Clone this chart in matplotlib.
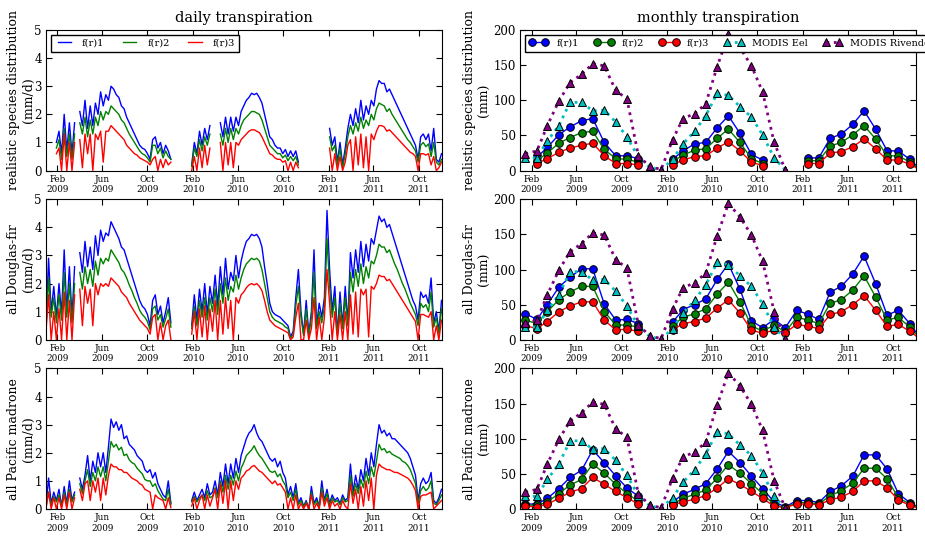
import numpy as np
import pandas as pd
import matplotlib
matplotlib.use('Agg')
import matplotlib.pyplot as plt
import matplotlib.dates as mdates

nan = np.nan

# daily transpiration, sampled once a week off the figure (mm/d)
weeks = pd.date_range('2009-01-01', periods=153, freq='7D')

real_d1 = [nan, nan, nan, nan, 1.0, 1.4, 0.6, 2.0, 0.7, 1.7, 0.6, 1.7, nan,
           2.1, 1.6, 2.5, 1.5, 2.3, 1.6, 2.4, 2.0, 2.8, 2.3, 2.7, 2.5,
           3.0, 2.9, 2.7, 2.6, 2.3, 2.2, 1.9, 1.7, 1.5, 1.3, 1.1, 0.9,
           0.8, 0.75, 0.6, 0.4, 1.1, 1.2, 0.8, 1.0, 0.6, 0.9, 0.7, 0.4,
           nan, nan, nan, nan, nan, nan, nan,
           0.2, 1.0, 0.6, 1.4, 0.9, 1.5, 1.1, 1.6, nan, nan, nan,
           1.7, 1.2, 1.9, 1.3, 1.9, 1.4, 1.9, 1.6, 2.1, 2.3, 2.5, 2.6,
           2.75, 2.7, 2.75, 2.6, 2.4, 2.0, 1.6, 1.2, 1.1, 0.9, 0.8, 0.8,
           0.6, 0.75, 0.5, 0.7, 0.5, 0.7, 0.3,
           nan, nan, nan, nan, nan, nan, nan, nan, nan, nan, nan,
           1.5, 0.9, 1.2, 0.3, 1.0, 0.2, 0.8, 1.5, 2.0, 1.6, 2.2, 1.7,
           2.5, 1.8, 2.3, 2.0, 2.5, 2.3, 2.9, 3.2, 3.1, 3.1, 2.8, 2.9,
           2.7, 2.5, 2.3, 2.1, 1.9, 1.7, 1.5, 1.3, 1.1, 0.9, 0.4, 1.2,
           1.3, 1.1, 1.3, 0.7, 1.5, 0.4, 0.3, 0.6]
real_d2 = [nan, nan, nan, nan, 0.8, 1.1, 0.4, 1.5, 0.5, 1.3, 0.4, 1.3, nan,
           1.7, 1.3, 1.9, 1.2, 1.8, 1.3, 1.9, 1.6, 2.1, 1.8, 2.1, 2.0,
           2.3, 2.2, 2.1, 2.0, 1.8, 1.7, 1.5, 1.3, 1.15, 1.0, 0.85, 0.7,
           0.6, 0.55, 0.45, 0.3, 0.9, 0.9, 0.6, 0.8, 0.45, 0.7, 0.5, 0.4,
           nan, nan, nan, nan, nan, nan, nan,
           0.15, 0.8, 0.5, 1.1, 0.7, 1.2, 0.9, 1.3, nan, nan, nan,
           1.3, 0.9, 1.5, 1.0, 1.5, 1.1, 1.5, 1.3, 1.6, 1.8, 1.9, 2.0,
           2.1, 2.1, 2.05, 2.0, 1.8, 1.5, 1.2, 0.9, 0.8, 0.7, 0.6, 0.6,
           0.45, 0.55, 0.35, 0.5, 0.35, 0.5, 0.2,
           nan, nan, nan, nan, nan, nan, nan, nan, nan, nan, nan,
           1.2, 0.7, 0.9, 0.2, 0.8, 0.1, 0.6, 1.2, 1.6, 1.3, 1.7, 1.4,
           1.9, 1.5, 1.8, 1.6, 2.0, 1.8, 2.2, 2.4, 2.35, 2.3, 2.1, 2.2,
           2.0, 1.85, 1.7, 1.55, 1.4, 1.25, 1.1, 1.0, 0.85, 0.7, 0.3, 0.9,
           1.0, 0.85, 0.95, 0.5, 1.0, 0.3, 0.2, 0.4]
real_d3 = [nan, nan, nan, nan, 0.6, 0.8, 0.0, 1.3, 0.0, 1.0, 0.0, 1.0, nan,
           1.1, 0.1, 1.3, 0.6, 1.3, 0.0, 1.3, 1.1, 1.4, 0.3, 1.4, 1.4,
           1.6, 1.5, 1.4, 1.3, 1.2, 1.1, 0.9, 0.8, 0.7, 0.6, 0.55, 0.45,
           0.4, 0.35, 0.3, 0.2, 0.4, 0.5, 0.0, 0.4, 0.1, 0.4, 0.2, 0.3,
           nan, nan, nan, nan, nan, nan, nan,
           0.0, 0.5, 0.0, 0.8, 0.1, 0.9, 0.2, 0.8, nan, nan, nan,
           1.0, 0.0, 1.0, 0.2, 1.0, 0.1, 1.0, 0.9, 1.1, 1.2, 1.3, 1.4,
           1.45, 1.45, 1.4, 1.35, 1.2, 1.0, 0.8, 0.6, 0.55, 0.45, 0.4, 0.4,
           0.3, 0.35, 0.0, 0.3, 0.0, 0.3, 0.1,
           nan, nan, nan, nan, nan, nan, nan, nan, nan, nan, nan,
           0.8, 0.0, 0.6, 0.0, 0.5, 0.0, 0.3, 0.9, 1.1, 0.0, 1.2, 0.2,
           1.3, 0.1, 1.2, 0.0, 1.3, 1.1, 1.4, 1.6, 1.6, 1.55, 1.4, 1.45,
           1.35, 1.25, 1.15, 1.05, 0.95, 0.85, 0.75, 0.65, 0.6, 0.5, 0.0, 0.6,
           0.6, 0.55, 0.6, 0.2, 0.5, 0.0, 0.1, 0.3]

fir_d1 = [0.5, 2.9, 1.0, 1.9, 0.8, 2.0, 0.9, 3.2, 1.0, 2.6, 0.8, 2.6, nan,
          3.1, 2.4, 3.5, 2.6, 3.3, 2.5, 3.7, 3.0, 3.9, 3.5, 3.8, 3.7,
          4.2, 4.0, 3.8, 3.6, 3.3, 3.2, 2.9, 2.6, 2.3, 2.0, 1.7, 1.4,
          1.2, 1.1, 0.9, 0.5, 1.4, 1.6, 0.9, 1.2, 0.6, 1.0, 1.5, 0.6,
          nan, nan, nan, nan, nan, nan, nan,
          0.5, 1.6, 0.7, 1.8, 1.0, 2.0, 0.9, 1.9, 1.3, 2.3, 1.2, 2.6,
          1.6, 2.9, 1.8, 2.4, 2.1, 3.0, 2.2, 2.8, 3.2, 3.5, 3.6, 3.75,
          3.7, 3.75, 3.6, 3.3, 2.6, 2.0, 1.3, 1.0, 0.9, 0.85, 0.8, 0.7,
          0.6, 0.5, 0.1, 0.3, 1.5, 2.5, 1.0, 0.2, 1.4, 0.2, 1.0, 3.2,
          0.5, 1.3, 0.8, 1.5, 4.6, 2.5, 1.0, 1.9, 0.2, 1.7, 0.5, 1.9,
          0.6, 3.1, 2.2, 3.2, 2.4, 3.5, 2.6, 3.4, 2.8, 3.6, 3.4, 3.9,
          4.4, 4.2, 4.3, 4.0, 4.1, 3.8, 3.5, 3.2, 2.9, 2.6, 2.3, 2.0,
          1.7, 1.4, 1.2, 0.7, 1.7, 1.5, 1.6, 1.3, 2.2, 0.6, 1.0, 0.3, 1.4]
fir_d2 = [0.4, 2.2, 0.8, 1.5, 0.6, 1.6, 0.7, 2.4, 0.8, 2.0, 0.6, 2.0, nan,
          2.4, 1.8, 2.6, 2.0, 2.5, 1.9, 2.8, 2.3, 2.9, 2.7, 2.9, 2.8,
          3.2, 3.05, 2.9, 2.75, 2.5, 2.4, 2.2, 1.95, 1.75, 1.5, 1.3, 1.05,
          0.9, 0.8, 0.65, 0.35, 1.1, 1.2, 0.7, 0.9, 0.45, 0.75, 1.1, 0.45,
          nan, nan, nan, nan, nan, nan, nan,
          0.4, 1.2, 0.5, 1.4, 0.8, 1.5, 0.7, 1.5, 1.0, 1.8, 0.9, 2.0,
          1.3, 2.2, 1.4, 1.9, 1.7, 2.3, 1.8, 2.2, 2.5, 2.7, 2.8, 2.9,
          2.85, 2.9, 2.8, 2.5, 2.0, 1.5, 1.0, 0.8, 0.7, 0.65, 0.6, 0.55,
          0.45, 0.4, 0.05, 0.2, 1.2, 1.9, 0.8, 0.15, 1.1, 0.15, 0.8, 2.4,
          0.4, 1.0, 0.6, 1.2, 3.6, 1.9, 0.8, 1.5, 0.15, 1.3, 0.4, 1.5,
          0.5, 2.4, 1.7, 2.5, 1.9, 2.7, 2.0, 2.6, 2.2, 2.8, 2.7, 3.0,
          3.4, 3.3, 3.3, 3.1, 3.2, 2.95, 2.7, 2.5, 2.25, 2.0, 1.8, 1.55,
          1.3, 1.1, 0.9, 0.5, 1.3, 1.15, 1.25, 1.0, 1.7, 0.45, 0.8, 0.2, 1.1]
fir_d3 = [0.3, 1.6, 0.0, 1.0, 0.0, 1.1, 0.0, 1.7, 0.0, 1.4, 0.0, 1.6, nan,
          1.8, 0.5, 1.9, 1.3, 1.8, 0.5, 2.0, 1.6, 2.0, 1.9, 2.0, 1.9,
          2.2, 2.1, 2.0, 1.9, 1.7, 1.6, 1.5, 1.3, 1.15, 1.0, 0.85, 0.7,
          0.6, 0.5, 0.4, 0.2, 0.8, 0.9, 0.0, 0.6, 0.0, 0.5, 0.7, 0.0,
          nan, nan, nan, nan, nan, nan, nan,
          0.2, 1.0, 0.0, 1.1, 0.1, 1.2, 0.0, 1.1, 0.3, 1.4, 0.0, 1.4,
          0.2, 1.5, 0.4, 1.4, 0.0, 1.5, 1.3, 1.6, 1.7, 1.85, 1.95, 2.0,
          1.95, 2.0, 1.9, 1.75, 1.4, 1.0, 0.7, 0.6, 0.5, 0.45, 0.4, 0.35,
          0.3, 0.25, 0.0, 0.1, 0.8, 1.3, 0.0, 0.0, 0.7, 0.0, 0.4, 1.5,
          0.0, 0.8, 0.0, 0.8, 2.5, 1.3, 0.0, 1.0, 0.0, 0.9, 0.0, 1.0,
          0.0, 1.6, 0.2, 1.7, 0.1, 1.8, 1.6, 1.8, 0.1, 1.9, 1.8, 2.0,
          2.3, 2.25, 2.25, 2.1, 2.15, 2.0, 1.85, 1.7, 1.55, 1.4, 1.25, 1.1,
          0.95, 0.8, 0.65, 0.0, 0.9, 0.9, 0.85, 0.8, 1.0, 0.0, 0.5, 0.0, 0.7]

madrone_d1 = [0.1, 1.1, 0.2, 0.6, 0.3, 0.7, 0.1, 0.8, 0.2, 1.0, 0.3, 0.6, nan,
              1.1, 0.7, 1.2, 1.9, 1.0, 1.7, 1.3, 2.0, 1.5, 2.0, 1.3, 2.2,
              3.2, 2.9, 3.1, 2.8, 3.0, 2.5, 2.6, 2.3, 2.2, 2.1, 1.9, 1.8,
              1.7, 1.4, 1.3, 1.4, 1.1, 1.3, 0.9, 0.7, 0.5, 0.4, 1.0, 0.2,
              nan, nan, nan, nan, nan, nan, nan,
              0.3, 0.6, 0.3, 0.5, 0.7, 0.4, 0.9, 0.5, 0.6, 1.0, 0.5, 1.3,
              0.8, 1.6, 0.9, 1.6, 1.1, 1.8, 1.3, 1.9, 2.2, 2.5, 2.7, 2.8,
              3.0, 2.7, 2.5, 2.4, 2.2, 2.0, 1.8, 1.7, 1.8, 1.5, 1.7, 1.3,
              1.1, 0.5, 0.8, 0.4, 0.9, 0.2, 0.4, 0.1, 0.3, 0.0, 0.8, 0.2,
              0.4, 0.1, 1.0, 0.3, 0.7, 0.2, 0.5, 0.3, 0.4, 0.2, 0.5, 0.3,
              0.4, 1.6, 0.6, 1.2, 0.7, 1.4, 1.0, 1.8, 1.2, 2.0, 1.5, 2.3,
              3.0, 2.7, 2.8, 2.6, 2.7, 2.5, 2.5, 2.4, 2.3, 2.2, 2.1, 2.0,
              1.8, 1.5, 1.2, 0.3, 0.9, 1.1, 0.9, 1.0, 1.3, 0.3, 0.2, 0.4, 0.7]
madrone_d2 = [0.1, 0.6, 0.15, 0.45, 0.25, 0.5, 0.1, 0.6, 0.15, 0.7, 0.25, 0.5, nan,
              0.9, 0.55, 1.0, 1.4, 0.8, 1.3, 1.0, 1.5, 1.15, 1.5, 1.0, 1.7,
              2.4, 2.2, 2.3, 2.1, 2.2, 1.9, 1.95, 1.75, 1.65, 1.6, 1.45, 1.35,
              1.25, 1.05, 1.0, 1.0, 0.8, 0.9, 0.65, 0.5, 0.35, 0.3, 0.7, 0.15,
              nan, nan, nan, nan, nan, nan, nan,
              0.25, 0.45, 0.25, 0.4, 0.5, 0.3, 0.65, 0.4, 0.45, 0.75, 0.4, 1.0,
              0.6, 1.2, 0.7, 1.2, 0.85, 1.35, 1.0, 1.45, 1.65, 1.9, 2.0, 2.1,
              2.25, 2.05, 1.9, 1.8, 1.65, 1.5, 1.35, 1.3, 1.35, 1.15, 1.25, 1.0,
              0.85, 0.4, 0.6, 0.3, 0.7, 0.15, 0.3, 0.08, 0.25, 0.0, 0.6, 0.15,
              0.3, 0.08, 0.75, 0.25, 0.55, 0.15, 0.4, 0.25, 0.3, 0.15, 0.4, 0.25,
              0.3, 1.2, 0.45, 0.9, 0.55, 1.05, 0.75, 1.35, 0.9, 1.5, 1.15, 1.7,
              2.3, 2.1, 2.15, 2.0, 2.05, 1.95, 1.9, 1.85, 1.8, 1.7, 1.65, 1.55,
              1.4, 1.15, 0.9, 0.2, 0.65, 0.8, 0.65, 0.75, 1.0, 0.2, 0.15, 0.3, 0.5]
madrone_d3 = [0.0, 0.6, 0.0, 0.4, 0.0, 0.4, 0.0, 0.5, 0.0, 0.6, 0.0, 0.4, nan,
              0.7, 0.3, 0.9, 1.0, 0.3, 1.0, 0.6, 1.1, 0.3, 1.1, 0.5, 1.2,
              1.6, 1.5, 1.5, 1.4, 1.4, 1.3, 1.3, 1.2, 1.1, 1.05, 1.0, 0.9,
              0.85, 0.7, 0.65, 0.6, 0.0, 0.5, 0.4, 0.35, 0.3, 0.0, 0.4, 0.05,
              nan, nan, nan, nan, nan, nan, nan,
              0.1, 0.4, 0.0, 0.3, 0.5, 0.0, 0.5, 0.1, 0.4, 0.7, 0.0, 0.9,
              0.2, 1.0, 0.0, 1.0, 0.3, 1.0, 0.7, 1.1, 1.2, 1.35, 1.4, 1.5,
              1.55, 1.45, 1.35, 1.3, 1.2, 1.1, 1.0, 0.9, 1.0, 0.85, 0.9, 0.75,
              0.6, 0.0, 0.4, 0.0, 0.5, 0.0, 0.2, 0.0, 0.2, 0.0, 0.5, 0.0,
              0.2, 0.0, 0.6, 0.1, 0.4, 0.0, 0.3, 0.1, 0.2, 0.0, 0.3, 0.1,
              0.0, 0.9, 0.2, 0.7, 0.0, 0.8, 0.1, 1.0, 0.3, 1.1, 0.0, 1.2,
              1.6, 1.5, 1.45, 1.4, 1.4, 1.35, 1.3, 1.3, 1.25, 1.2, 1.15, 1.1,
              1.0, 0.85, 0.65, 0.0, 0.45, 0.5, 0.5, 0.55, 0.6, 0.0, 0.1, 0.2, 0.3]

# monthly totals (mm), Jan 2009 .. Dec 2011, plotted mid-month
months = pd.date_range('2009-01-01', periods=36, freq='MS') + pd.Timedelta(days=14)

real_m1 = [nan, 19, 33, 51, 62, 71, 74, 40, 21, 21, 17, nan,
           nan, 16, 28, 38, 40, 61, 78, 53, 23, 15, nan, nan,
           nan, 18, 18, 46, 52, 66, 85, 59, 28, 28, 16, 1]
real_m2 = [nan, 14, 25, 39, 47, 54, 56, 30, 17, 16, 12, nan,
           nan, 13, 22, 29, 31, 46, 59, 40, 17, 10, nan, nan,
           nan, 14, 14, 35, 40, 51, 64, 45, 21, 21, 12, 0.5]
real_m3 = [nan, 10, 17, 26, 32, 36, 39, 21, 10, 10, 8, nan,
           nan, 8, 15, 20, 21, 32, 41, 28, 12, 7, nan, nan,
           nan, 10, 10, 25, 27, 34, 45, 31, 15, 15, 9, 0.3]

fir_m1 = [37, 29, 50, 75, 89, 101, 101, 51, 28, 29, 23, nan,
          nan, 25, 43, 50, 58, 86, 108, 72, 27, 17, 29, 17,
          42, 36, 29, 68, 76, 94, 119, 80, 35, 42, 23, 1]
fir_m2 = [28, 23, 40, 57, 68, 76, 76, 40, 21, 21, 18, nan,
          nan, 20, 32, 37, 44, 65, 82, 54, 20, 12, 21, 11,
          32, 28, 23, 52, 57, 71, 91, 61, 28, 32, 18, 0.5]
fir_m3 = [20, 16, 26, 40, 48, 54, 54, 28, 14, 15, 12, nan,
          nan, 14, 23, 26, 31, 45, 57, 38, 14, 9, 14, 10,
          22, 19, 16, 36, 40, 50, 63, 42, 19, 22, 12, 0.3]

madrone_m1 = [7, 7, 15, 29, 45, 55, 84, 66, 47, 30, 18, nan,
              nan, 10, 21, 28, 36, 57, 82, 66, 47, 29, 10, 3,
              12, 12, 9, 25, 33, 47, 77, 77, 57, 22, 9, 1]
madrone_m2 = [6, 5, 10, 22, 34, 42, 64, 51, 35, 22, 11, nan,
              nan, 7, 15, 21, 27, 44, 63, 51, 36, 22, 6, 2,
              9, 9, 7, 19, 26, 37, 58, 58, 43, 16, 7, 0.5]
madrone_m3 = [4, 3, 7, 15, 24, 29, 45, 35, 25, 16, 7, nan,
              nan, 6, 10, 14, 19, 30, 43, 35, 25, 15, 4, 2,
              7, 7, 6, 13, 17, 25, 40, 40, 30, 13, 5, 0.3]

# MODIS estimates, Jan 2009 .. Dec 2010 (same in every row)
modis_eel = [18, 18, 42, 64, 97, 97, 85, 86, 69, 48, 19, 5,
             1, 16, 38, 56, 78, 110, 107, 91, 76, 51, 18, 1]
modis_riv = [24, 28, 64, 99, 125, 137, 152, 149, 114, 102, 21, 6,
             1.5, 44, 74, 81, 95, 148, 194, 175, 149, 112, 40, 1]

row_names = ['realistic species distribution', 'all Douglas-fir', 'all Pacific madrone']
daily = [(real_d1, real_d2, real_d3), (fir_d1, fir_d2, fir_d3),
         (madrone_d1, madrone_d2, madrone_d3)]
monthly = [(real_m1, real_m2, real_m3), (fir_m1, fir_m2, fir_m3),
           (madrone_m1, madrone_m2, madrone_m3)]
labels = ['f(r)1', 'f(r)2', 'f(r)3']
colors = ['b', 'g', 'r']

plt.rcParams['font.family'] = ['DejaVu Serif']
plt.rcParams['legend.numpoints'] = 2

fig, axes = plt.subplots(3, 2, figsize=(9.25, 5.36), dpi=100)
fig.subplots_adjust(left=0.0497, right=0.990, bottom=0.0504, top=0.944,
                    wspace=0.199, hspace=0.204)

for i in range(3):
    ax = axes[i, 0]
    for vals, c, lab in zip(daily[i], colors, labels):
        ax.plot(weeks, vals, color=c, lw=1.0, label=lab)
    ax.set_ylim(0, 5)
    ax.set_yticks([0, 1, 2, 3, 4, 5])
    ax.set_ylabel(row_names[i] + '\n(mm/d)', fontsize=9)
    ax.yaxis.set_label_coords(-0.027, 0.5)

    ax = axes[i, 1]
    for vals, c, lab in zip(monthly[i], colors, labels):
        ax.plot(months, vals, color=c, lw=1.0, marker='o', ms=5.5,
                mec='k', mew=0.7, label=lab)
    ax.plot(months[:24], modis_eel, color='c', ls=':', lw=2, marker='^',
            ms=5.5, mec='k', mew=0.7, label='MODIS Eel')
    ax.plot(months[:24], modis_riv, color='purple', ls=':', lw=2, marker='^',
            ms=5.5, mec='k', mew=0.7, label='MODIS Rivendell')
    ax.set_ylim(0, 200)
    ax.set_yticks([0, 50, 100, 150, 200])
    ax.set_ylabel(row_names[i] + '\n(mm)', fontsize=9)
    ax.yaxis.set_label_coords(-0.075, 0.5)

for ax in axes.flat:
    ax.set_xlim(pd.Timestamp('2009-01-01'), pd.Timestamp('2011-12-01'))
    ax.xaxis.set_major_locator(mdates.MonthLocator(bymonth=[2, 6, 10]))
    ax.xaxis.set_major_formatter(mdates.DateFormatter('%b\n%Y'))
    ax.tick_params(direction='in', top=True, right=True, length=4, pad=3)
    ax.tick_params(axis='x', labelsize=6.3)
    ax.tick_params(axis='y', labelsize=8.5)

axes[0, 0].set_title('daily transpiration', fontsize=10.5)
axes[0, 1].set_title('monthly transpiration', fontsize=10.5)

leg_kw = dict(loc='upper left', fontsize=7, fancybox=False, framealpha=1,
              edgecolor='k', handlelength=2.0, columnspacing=1.6,
              borderpad=0.4, handletextpad=0.8)
axes[0, 0].legend(ncol=3, **leg_kw)
axes[0, 1].legend(ncol=5, **leg_kw)

fig.savefig('out.png', dpi=100, facecolor='white')
